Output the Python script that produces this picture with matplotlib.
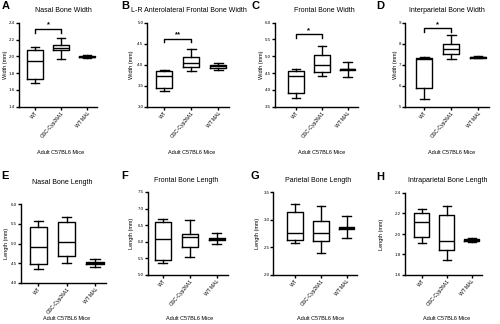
import matplotlib
matplotlib.use("Agg")
import matplotlib.pyplot as plt

plt.rcParams['font.family'] = ['Liberation Sans', 'DejaVu Sans']

groups = ["WT", "GSC-Cyp26A1", "WT MAL"]

# five-number summaries per group: [whisker low, Q1, median, Q3, whisker high]
nasal_width = [[1.68, 1.73, 1.94, 2.08, 2.11],
               [1.97, 2.075, 2.10, 2.14, 2.22],
               [1.98, 1.99, 1.995, 2.00, 2.01]]
lr_frontal_width = [[3.37, 3.45, 3.74, 3.86, 3.88],
                    [3.84, 3.95, 4.03, 4.18, 4.38],
                    [3.87, 3.93, 3.96, 3.99, 4.05]]
frontal_width = [[3.75, 3.90, 4.41, 4.56, 4.61],
                 [4.40, 4.53, 4.75, 5.03, 5.32],
                 [4.39, 4.59, 4.61, 4.63, 4.82]]
interparietal_width = [[5.39, 5.87, 7.28, 7.32, 7.36],
                       [7.25, 7.49, 7.76, 7.98, 8.42],
                       [7.32, 7.34, 7.36, 7.38, 7.40]]
nasal_length = [[4.36, 4.49, 4.90, 5.41, 5.57],
                [4.50, 4.68, 5.05, 5.54, 5.67],
                [4.40, 4.49, 4.51, 4.53, 4.62]]
frontal_length = [[5.37, 5.45, 6.09, 6.61, 6.69],
                  [5.55, 5.85, 6.14, 6.22, 6.66],
                  [5.92, 6.06, 6.09, 6.12, 6.26]]
parietal_length = [[2.57, 2.63, 2.76, 3.14, 3.29],
                   [2.40, 2.61, 2.76, 2.97, 3.24],
                   [2.66, 2.84, 2.85, 2.86, 3.06]]
intraparietal_length = [[1.91, 1.97, 2.12, 2.20, 2.24],
                        [1.75, 1.84, 1.93, 2.19, 2.27],
                        [1.92, 1.93, 1.94, 1.95, 1.96]]

titles = ["Nasal Bone Width", "L-R Anterolateral Frontal Bone Width",
          "Frontal Bone Width", "Interparietal Bone Width",
          "Nasal Bone Length", "Frontal Bone Length",
          "Parietal Bone Length", "Intraparietal Bone Length"]
letters = ["A", "B", "C", "D", "E", "F", "G", "H"]
ylabels = ["Width (mm)"] * 4 + ["Length (mm)"] * 4
yticks = [[1.4, 1.6, 1.8, 2.0, 2.2, 2.4],
          [3.0, 3.5, 4.0, 4.5, 5.0],
          [3.5, 4.0, 4.5, 5.0, 5.5, 6.0],
          [5, 6, 7, 8, 9],
          [4.0, 4.5, 5.0, 5.5, 6.0],
          [5.0, 5.5, 6.0, 6.5, 7.0, 7.5],
          [2.0, 2.5, 3.0, 3.5],
          [1.6, 1.8, 2.0, 2.2, 2.4]]
ytick_fmt = ["{:.1f}", "{:.1f}", "{:.1f}", "{:.0f}", "{:.1f}", "{:.1f}", "{:.1f}", "{:.1f}"]
# significance brackets (panels A-D): bracket level, drop level, label
sig_level = [2.33, 4.62, 5.67, 8.76]
sig_drop = [2.28, 4.54, 5.55, 8.57]
sig_text = ["*", "**", "*", "*"]
xlabel = "Adult C57BL6 Mice"

datasets = [nasal_width, lr_frontal_width, frontal_width, interparietal_width,
            nasal_length, frontal_length, parietal_length, intraparietal_length]

W, H = 500, 324
fig = plt.figure(figsize=(W / 100, H / 100), dpi=100)

# layout in pixels: axis-left, centre of group1, centre of group3, top, bottom
layout = [(19, 35, 87, 22.7, 106.7),
          (147.3, 164.3, 218.3, 22.7, 106.7),
          (275, 296, 347.7, 22.7, 106.7),
          (405, 424.3, 478, 22.7, 106.7),
          (20.7, 38.3, 95, 204, 283),
          (147.7, 162.7, 216.7, 192, 275),
          (273.3, 295, 346.7, 192, 275),
          (405, 421.7, 471.7, 193, 275)]
title_pos = [(63, 10), (189, 10), (324, 10), (447, 10),
             (62, 182), (186, 181), (318, 181), (448, 181)]
letter_pos = [(5.5, 6), (125.5, 6), (255, 6), (380, 6),
              (4.5, 176), (125, 176), (255, 176), (380, 177)]
ylabel_x = [6, 131.7, 262, 396, 6.7, 131.7, 257, 381.7]
xlabel_y = [153, 153, 153, 153, 318.5, 318.5, 318.5, 318.5]

lw = 1.0
for i, data in enumerate(datasets):
    axl, c1, c3, top, bot = layout[i]
    s = (c3 - c1) / 2
    xmin = 1 - (c1 - axl) / s
    xmax = 3.4
    width = (xmax - xmin) * s
    ax = fig.add_axes([axl / W, 1 - bot / H, width / W, (bot - top) / H])
    stats = []
    for g, d in zip(groups, data):
        stats.append(dict(whislo=d[0], q1=d[1], med=d[2], q3=d[3], whishi=d[4],
                          fliers=[], label=g))
    ax.bxp(stats, positions=[1, 2, 3], widths=0.6, showfliers=False,
           boxprops=dict(color='black', linewidth=lw),
           medianprops=dict(color='black', linewidth=lw),
           whiskerprops=dict(color='black', linewidth=lw),
           capprops=dict(color='black', linewidth=lw),
           capwidths=0.33)
    ax.set_xlim(xmin, xmax)
    yt = yticks[i]
    ax.set_ylim(yt[0], yt[-1])
    ax.set_yticks(yt)
    ax.set_yticklabels([ytick_fmt[i].format(v) for v in yt], fontsize=3.2)
    ax.set_xticks([1, 2, 3])
    ax.set_xticklabels(groups, rotation=50, ha='right', rotation_mode='anchor',
                       fontsize=3.6)
    for sp in ['top', 'right']:
        ax.spines[sp].set_visible(False)
    for sp in ['left', 'bottom']:
        ax.spines[sp].set_linewidth(lw)
    ax.tick_params(axis='both', length=2, width=lw, pad=0.8)
    ax.patch.set_alpha(0)

    if i < 4:
        ax.plot([1, 1, 2, 2], [sig_drop[i], sig_level[i], sig_level[i], sig_drop[i]],
                color='black', linewidth=lw, clip_on=False)
        ax.text(1.5, sig_level[i], sig_text[i], ha='center', va='bottom',
                fontsize=5.5, fontweight='bold')

    tx, ty = title_pos[i]
    fig.text(tx / W, 1 - ty / H, titles[i], ha='center', va='center', fontsize=5)
    lx, ly = letter_pos[i]
    fig.text(lx / W, 1 - ly / H, letters[i], ha='center', va='center',
             fontsize=8, fontweight='bold')
    fig.text(ylabel_x[i] / W, 1 - ((top + bot) / 2) / H, ylabels[i], rotation=90,
             ha='center', va='center', fontsize=4)
    xc = c1 + s
    fig.text(xc / W, 1 - xlabel_y[i] / H, xlabel, ha='center', va='center',
             fontsize=4)

fig.savefig("out.png", dpi=100)
